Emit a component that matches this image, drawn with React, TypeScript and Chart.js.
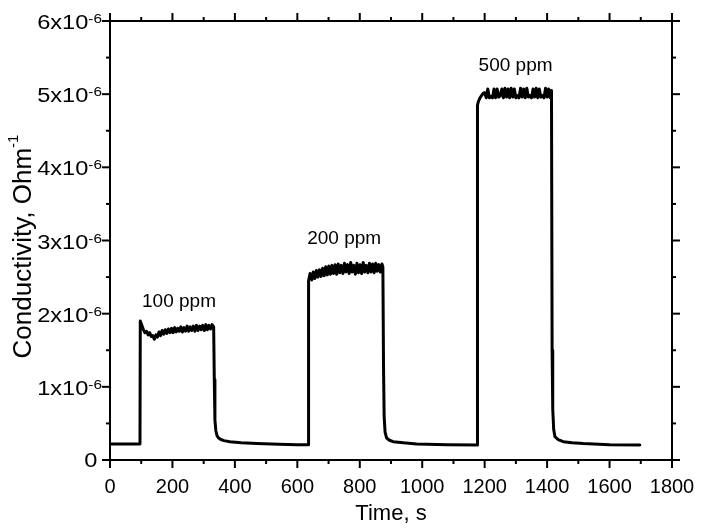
import React, { useEffect, useRef } from "react";
import { Chart, registerables } from "chart.js";

Chart.register(...registerables);

// Time axis (s)
const timeS: number[] = [
  0, 20, 40, 60, 80, 96,
  97, 102, 107, 112, 117, 122, 127, 132, 137, 142, 147, 152, 157, 162, 167, 172,
  177, 182, 187, 192, 197, 202, 207, 212, 217, 222, 227, 232, 237, 242, 247, 252,
  257, 262, 267, 272, 277, 282, 287, 292, 297, 302, 307, 312, 317, 322, 327, 332,
  334, 336, 339, 343, 348, 355, 365, 384, 420, 470, 540, 600, 635,
  636, 641, 646, 651, 656, 661, 666, 671, 676, 681, 686, 691, 696, 701, 706, 711,
  716, 721, 726, 731, 736, 741, 746, 751, 756, 761, 766, 771, 776, 781, 786, 791,
  796, 801, 806, 811, 816, 821, 826, 831, 836, 841, 846, 851, 856, 861, 866, 871, 874,
  876, 878, 881, 886, 895, 907, 940, 982, 1080, 1176,
  1177, 1180, 1185, 1190, 1195,
  1200, 1205, 1210, 1215, 1220, 1225, 1230, 1235, 1240, 1245, 1250, 1255, 1260, 1265,
  1270, 1275, 1280, 1285, 1290, 1295, 1300, 1305, 1310, 1315, 1320, 1325, 1330, 1335,
  1340, 1345, 1350, 1355, 1360, 1365, 1370, 1375, 1380, 1385, 1390, 1395, 1400, 1405,
  1410, 1414,
  1416, 1418, 1421, 1425, 1435, 1452, 1480, 1516, 1600, 1697,
];

// Conductivity in units of 1e-6 Ohm^-1
const conductivity: number[] = [
  0.22, 0.22, 0.22, 0.22, 0.22, 0.22,
  1.90, 1.84, 1.78, 1.74, 1.76, 1.71, 1.74, 1.69, 1.70, 1.65, 1.71, 1.68, 1.75, 1.70, 1.77, 1.72,
  1.78, 1.73, 1.79, 1.74, 1.80, 1.74, 1.81, 1.75, 1.80, 1.76, 1.82, 1.75, 1.81, 1.76, 1.83, 1.76,
  1.82, 1.77, 1.83, 1.76, 1.84, 1.77, 1.83, 1.78, 1.84, 1.77, 1.85, 1.78, 1.84, 1.79, 1.85, 1.82,
  1.10, 0.55, 0.40, 0.33, 0.30, 0.28, 0.265, 0.25, 0.235, 0.225, 0.215, 0.21, 0.21,
  2.45, 2.55, 2.46, 2.57, 2.48, 2.59, 2.50, 2.60, 2.51, 2.62, 2.52, 2.64, 2.53, 2.65, 2.54, 2.66,
  2.55, 2.67, 2.54, 2.68, 2.56, 2.66, 2.55, 2.69, 2.57, 2.67, 2.55, 2.70, 2.57, 2.66, 2.54, 2.69,
  2.56, 2.67, 2.55, 2.70, 2.57, 2.66, 2.56, 2.69, 2.57, 2.68, 2.56, 2.69, 2.58, 2.67, 2.57, 2.68, 2.64,
  1.30, 0.60, 0.38, 0.30, 0.27, 0.25, 0.235, 0.22, 0.21, 0.205,
  4.85, 4.90, 4.95, 4.98, 5.01,
  5.02, 4.95, 5.07, 4.95, 4.97, 4.95, 5.07, 4.95, 5.07, 4.96, 4.98, 5.07, 4.95, 5.08,
  4.96, 5.07, 4.95, 5.08, 4.96, 5.07, 4.95, 4.98, 4.95, 5.08, 4.96, 5.07, 4.95, 5.08,
  4.96, 4.98, 4.95, 5.07, 4.96, 5.08, 4.95, 5.07, 4.96, 4.98, 4.95, 5.08, 4.96, 5.07,
  4.95, 5.05,
  1.50, 0.70, 0.42, 0.32, 0.28, 0.25, 0.235, 0.225, 0.21, 0.205,
];

// Axis ticks
const xMajorTicks = [0, 200, 400, 600, 800, 1000, 1200, 1400, 1600, 1800];
const xTickLabels = ["0", "200", "400", "600", "800", "1000", "1200", "1400", "1600", "1800"];
const xMinorTicks = [100, 300, 500, 700, 900, 1100, 1300, 1500, 1700];
const yMajorTicks = [0, 1, 2, 3, 4, 5, 6];
const yTickMantissa = ["0", "1x10", "2x10", "3x10", "4x10", "5x10", "6x10"];
const yTickExponent = ["", "-6", "-6", "-6", "-6", "-6", "-6"];
const yMinorTicks = [0.5, 1.5, 2.5, 3.5, 4.5, 5.5];

// Annotations
const annotationText = ["100 ppm", "200 ppm", "500 ppm"];
const annotationTime = [221, 750, 1299];
const annotationValue = [2.09, 2.95, 5.31];

const xTitle = "Time, s";
const yTitleMain = "Conductivity, Ohm";
const yTitleExp = "-1";

const FONT = '"Liberation Sans", Arial, Helvetica, sans-serif';

const axesPlugin = {
  id: "originAxes",
  afterDraw(chart: any) {
    const { ctx, chartArea: a } = chart;
    const xs = chart.scales.x;
    const ys = chart.scales.y;
    ctx.save();
    ctx.strokeStyle = "#000";
    ctx.fillStyle = "#000";
    ctx.lineWidth = 2;
    ctx.lineCap = "butt";
    ctx.strokeRect(a.left, a.top, a.right - a.left, a.bottom - a.top);
    const seg = (x1: number, y1: number, x2: number, y2: number) => {
      ctx.beginPath();
      ctx.moveTo(x1, y1);
      ctx.lineTo(x2, y2);
      ctx.stroke();
    };
    const MAJ = 8;
    const MIN = 4;
    xMajorTicks.forEach((v) => {
      const p = xs.getPixelForValue(v);
      seg(p, a.bottom, p, a.bottom + MAJ);
      seg(p, a.top, p, a.top - MAJ);
    });
    xMinorTicks.forEach((v) => {
      const p = xs.getPixelForValue(v);
      seg(p, a.bottom, p, a.bottom + MIN);
      seg(p, a.top, p, a.top - MIN);
    });
    yMajorTicks.forEach((v) => {
      const p = ys.getPixelForValue(v);
      seg(a.left, p, a.left - MAJ, p);
      seg(a.right, p, a.right + MAJ, p);
    });
    yMinorTicks.forEach((v) => {
      const p = ys.getPixelForValue(v);
      seg(a.left, p, a.left - MIN, p);
      seg(a.right, p, a.right + MIN, p);
    });

    // x tick labels
    ctx.font = `20px ${FONT}`;
    ctx.textAlign = "center";
    ctx.textBaseline = "alphabetic";
    xMajorTicks.forEach((v, i) => {
      ctx.fillText(xTickLabels[i], xs.getPixelForValue(v), a.bottom + 33);
    });
    // x title
    ctx.font = `22px ${FONT}`;
    ctx.fillText(xTitle, (a.left + a.right) / 2, a.bottom + 60);

    // y tick labels (slightly wide lettering, as in the original)
    const rightEdge = a.left - 8;
    const SX = 1.18;
    yMajorTicks.forEach((v, i) => {
      const p = ys.getPixelForValue(v);
      const exp = yTickExponent[i];
      ctx.save();
      ctx.translate(rightEdge, p);
      ctx.scale(SX, 1);
      ctx.textAlign = "right";
      if (exp) {
        ctx.font = `13px ${FONT}`;
        const ew = ctx.measureText(exp).width;
        ctx.fillText(exp, 0, 2);
        ctx.font = `20px ${FONT}`;
        ctx.fillText(yTickMantissa[i], -ew, 8);
      } else {
        ctx.font = `20px ${FONT}`;
        ctx.fillText(yTickMantissa[i], -4, 7);
      }
      ctx.restore();
    });

    // y title (rotated)
    ctx.save();
    ctx.translate(31, (a.top + a.bottom) / 2 + 6);
    ctx.rotate(-Math.PI / 2);
    ctx.font = `26px ${FONT}`;
    const mw = ctx.measureText(yTitleMain).width;
    ctx.font = `15px ${FONT}`;
    const ew2 = ctx.measureText(yTitleExp).width;
    const start = -(mw + ew2) / 2;
    ctx.textAlign = "left";
    ctx.font = `26px ${FONT}`;
    ctx.fillText(yTitleMain, start, 0);
    ctx.font = `15px ${FONT}`;
    ctx.fillText(yTitleExp, start + mw, -13);
    ctx.restore();

    // annotations
    ctx.font = `19px ${FONT}`;
    ctx.textAlign = "center";
    annotationText.forEach((t, i) => {
      ctx.fillText(t, xs.getPixelForValue(annotationTime[i]), ys.getPixelForValue(annotationValue[i]));
    });
    ctx.restore();
  },
};

export default function App() {
  const ref = useRef<HTMLCanvasElement | null>(null);
  useEffect(() => {
    if (!ref.current) return;
    const points = timeS.map((t, i) => ({ x: t, y: conductivity[i] }));
    const chart = new Chart(ref.current, {
      type: "line",
      data: {
        datasets: [
          {
            data: points,
            borderColor: "#000",
            borderWidth: 3,
            pointRadius: 0,
            tension: 0,
            borderJoinStyle: "round",
            borderCapStyle: "round",
            fill: false,
          },
        ],
      },
      options: {
        animation: false,
        responsive: false,
        events: [],
        layout: { padding: { left: 110, right: 29, top: 21, bottom: 71 } },
        plugins: { legend: { display: false }, tooltip: { enabled: false } },
        scales: {
          x: { type: "linear", min: 0, max: 1800, display: false },
          y: { type: "linear", min: 0, max: 6, display: false },
        },
      },
      plugins: [axesPlugin],
    });
    return () => chart.destroy();
  }, []);
  return (
    <div style={{ position: "absolute", left: 0, top: 0, width: 701, height: 531, background: "#fff" }}>
      <canvas ref={ref} width={701} height={531} style={{ display: "block" }} />
    </div>
  );
}
